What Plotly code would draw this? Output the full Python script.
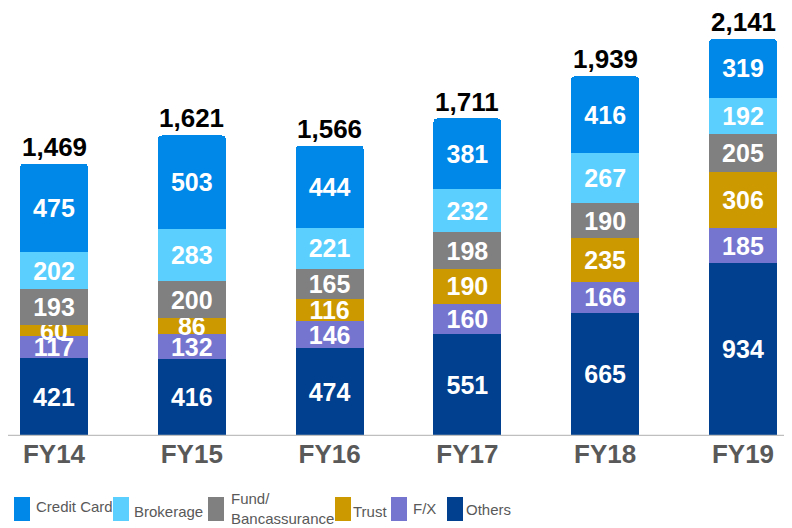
import plotly.graph_objects as go

categories = ["FY14", "FY15", "FY16", "FY17", "FY18", "FY19"]

others = [421, 416, 474, 551, 665, 934]
fx = [117, 132, 146, 160, 166, 185]
trust = [60, 86, 116, 190, 235, 306]
fund = [193, 200, 165, 198, 190, 205]
brokerage = [202, 283, 221, 232, 267, 192]
credit_card = [475, 503, 444, 381, 416, 319]
totals = [1469, 1621, 1566, 1711, 1939, 2141]
total_labels = ["1,469", "1,621", "1,566", "1,711", "1,939", "2,141"]

series_names = ["Others", "F/X", "Trust", "Fund/Bancassurance", "Brokerage", "Credit Card"]
series_values = [others, fx, trust, fund, brokerage, credit_card]
series_colors = ["#00408F", "#7575D0", "#CC9900", "#808080", "#5BCFFE", "#0088E8"]

# legend (drawn left to right)
legend_order = ["Credit Card", "Brokerage", "Fund/Bancassurance", "Trust", "F/X", "Others"]
legend_labels = ["Credit Card", "Brokerage", "Fund/<br>Bancassurance", "Trust", "F/X", "Others"]

# page has an 8px body margin: work in reference pixels, shift by OFF
OFF = 8
W, H = 792 - OFF, 528 - OFF
legend_box_x = [14, 113, 208, 335, 391, 447]
legend_text_x = [34, 132, 229, 351, 411, 464]
legend_text_y = [506, 511, 508, 512, 508, 509]
BASE = 436 - OFF
PXU = 0.1855  # pixels per unit

fig = go.Figure()
for name, vals, col in zip(series_names, series_values, series_colors):
    fig.add_trace(go.Bar(
        x=categories, y=vals, name=name,
        marker=dict(color=col, line=dict(width=0)),
        text=[str(v) for v in vals],
        textposition="inside", insidetextanchor="middle", textangle=0,
        textfont=dict(family="Liberation Sans, Arial", size=25, color="white", weight="bold"),
        showlegend=False,
    ))

for c, t, lab in zip(categories, totals, total_labels):
    fig.add_annotation(x=c, y=t, text=f"<b>{lab}</b>", showarrow=False,
                       yanchor="bottom", yshift=0,
                       font=dict(family="Liberation Sans, Arial", size=26, color="black"))

# axis line
fig.add_shape(type="line", xref="paper", yref="y", x0=0, x1=1, y0=0, y1=0,
              line=dict(color="#BFBFBF", width=2.5))

def py(p):
    return (BASE - (p - OFF)) / BASE

def px(p):
    return (p - OFF) / W

LEG_FONT = "Liberation Sans, Arial"
for name, lab, bx, tx, ty in zip(legend_order, legend_labels, legend_box_x, legend_text_x, legend_text_y):
    col = series_colors[series_names.index(name)]
    fig.add_shape(type="rect", xref="paper", yref="paper",
                  x0=px(bx), x1=px(bx + 16), y0=py(521), y1=py(497),
                  fillcolor=col, line=dict(width=0))
    fig.add_annotation(xref="paper", yref="paper", x=px(tx), y=py(ty),
                       text=lab, showarrow=False, xanchor="left", yanchor="middle",
                       align="left",
                       font=dict(family=LEG_FONT, size=15, color="#595959"))

c0 = 54 - OFF
span = 137.8
fig.update_layout(
    width=W, height=H,
    barmode="stack", bargap=0.507, barcornerradius=4,
    plot_bgcolor="white", paper_bgcolor="white",
    margin=dict(l=0, r=0, t=0, b=H - BASE),
    uniformtext=dict(minsize=25, mode="show"),
    xaxis=dict(range=[-c0 / span, (W - c0) / span], showline=False, showgrid=False, ticks="",
               tickfont=dict(family="Liberation Sans, Arial", size=26, color="#595959", weight="bold")),
    yaxis=dict(range=[0, BASE / PXU], visible=False, showgrid=False),
)
fig.write_html("out.html")
